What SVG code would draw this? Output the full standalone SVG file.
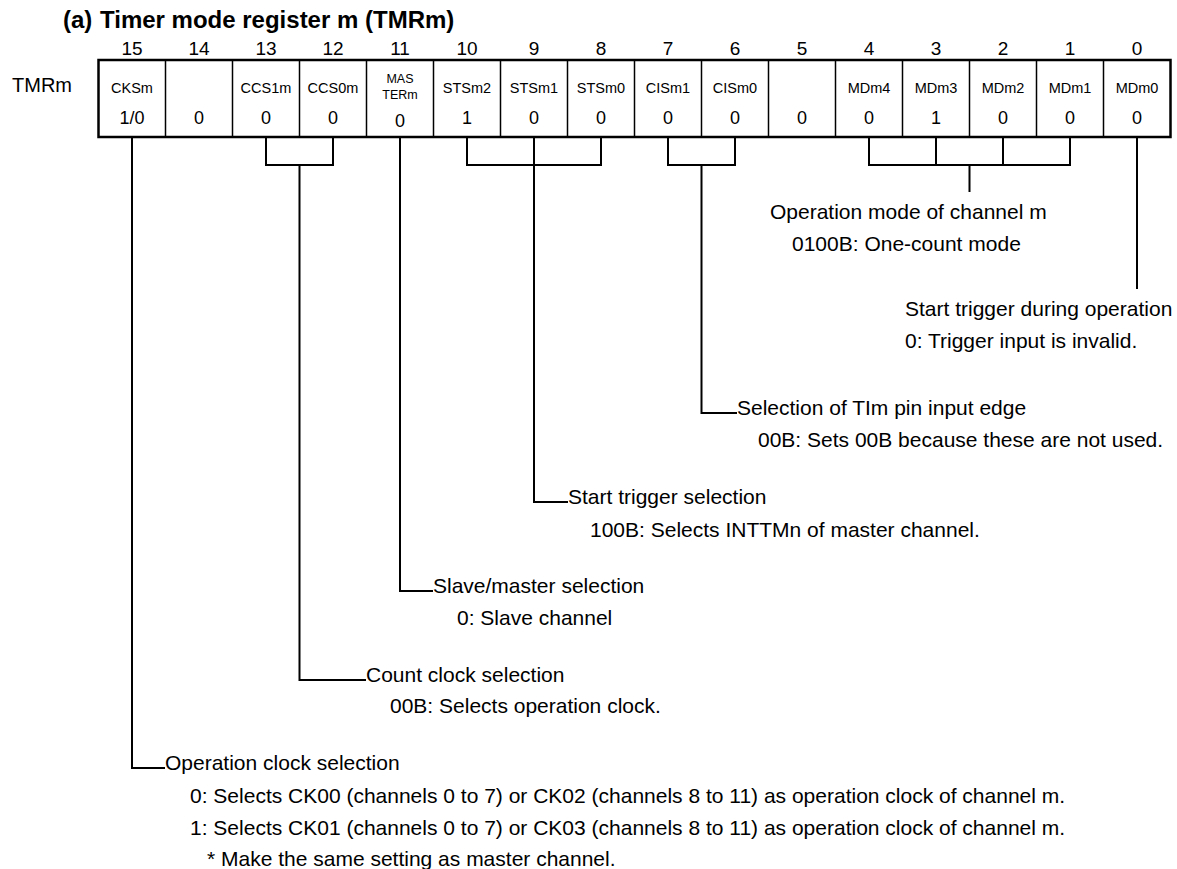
<svg xmlns="http://www.w3.org/2000/svg" width="1177" height="869" viewBox="0 0 1177 869">
<style>
text{font-family:"Liberation Sans",Arial,sans-serif;fill:#000}
.title{font-size:24px;font-weight:bold}
.bit{font-size:19px;text-anchor:middle}
.reg{font-size:20px}
.fld{font-size:14.5px;text-anchor:middle}
.fs{font-size:12.5px;text-anchor:middle}
.val{font-size:18px;text-anchor:middle}
.d{font-size:21px}
.outer{fill:#fff;stroke:#000;stroke-width:2.5}
.div{stroke:#000;stroke-width:1.5}
.c{fill:none;stroke:#000;stroke-width:2}
</style>
<rect width="1177" height="869" fill="#fff"/>
<g id="title">
<text class="title" x="63" y="28">(a)</text>
<text class="title" x="100" y="28">Timer mode register m (TMRm)</text>
</g>
<g id="bit-numbers">
<text class="bit" x="132" y="55">15</text>
<text class="bit" x="199" y="55">14</text>
<text class="bit" x="266" y="55">13</text>
<text class="bit" x="333" y="55">12</text>
<text class="bit" x="400" y="55">11</text>
<text class="bit" x="467" y="55">10</text>
<text class="bit" x="534" y="55">9</text>
<text class="bit" x="601" y="55">8</text>
<text class="bit" x="668" y="55">7</text>
<text class="bit" x="735" y="55">6</text>
<text class="bit" x="802" y="55">5</text>
<text class="bit" x="869" y="55">4</text>
<text class="bit" x="936" y="55">3</text>
<text class="bit" x="1003" y="55">2</text>
<text class="bit" x="1070" y="55">1</text>
<text class="bit" x="1137" y="55">0</text>
</g>
<g id="register">
<text class="reg" x="12" y="92">TMRm</text>
<rect class="outer" x="98.5" y="60" width="1072" height="77"/>
<path class="div" d="M165.5 60V137M232.5 60V137M299.5 60V137M366.5 60V137M433.5 60V137M500.5 60V137M567.5 60V137M634.5 60V137M701.5 60V137M768.5 60V137M835.5 60V137M902.5 60V137M969.5 60V137M1036.5 60V137M1103.5 60V137"/>
<g id="bit15"><text class="fld" x="132" y="93">CKSm</text><text class="val" x="132" y="124">1/0</text></g>
<g id="bit14"><text class="val" x="199" y="124">0</text></g>
<g id="bit13"><text class="fld" x="266" y="93">CCS1m</text><text class="val" x="266" y="124">0</text></g>
<g id="bit12"><text class="fld" x="333" y="93">CCS0m</text><text class="val" x="333" y="124">0</text></g>
<g id="bit11"><text class="fs" x="400" y="83">MAS</text><text class="fs" x="400" y="99">TERm</text><text class="val" x="400" y="127">0</text></g>
<g id="bit10"><text class="fld" x="467" y="93">STSm2</text><text class="val" x="467" y="124">1</text></g>
<g id="bit9"><text class="fld" x="534" y="93">STSm1</text><text class="val" x="534" y="124">0</text></g>
<g id="bit8"><text class="fld" x="601" y="93">STSm0</text><text class="val" x="601" y="124">0</text></g>
<g id="bit7"><text class="fld" x="668" y="93">CISm1</text><text class="val" x="668" y="124">0</text></g>
<g id="bit6"><text class="fld" x="735" y="93">CISm0</text><text class="val" x="735" y="124">0</text></g>
<g id="bit5"><text class="val" x="802" y="124">0</text></g>
<g id="bit4"><text class="fld" x="869" y="93">MDm4</text><text class="val" x="869" y="124">0</text></g>
<g id="bit3"><text class="fld" x="936" y="93">MDm3</text><text class="val" x="936" y="124">1</text></g>
<g id="bit2"><text class="fld" x="1003" y="93">MDm2</text><text class="val" x="1003" y="124">0</text></g>
<g id="bit1"><text class="fld" x="1070" y="93">MDm1</text><text class="val" x="1070" y="124">0</text></g>
<g id="bit0"><text class="fld" x="1137" y="93">MDm0</text><text class="val" x="1137" y="124">0</text></g>
</g>
<g id="connectors">
<path class="c" d="M132 138V768H165"/>
<path class="c" d="M266 138V165H333V138M299.5 165V680H366"/>
<path class="c" d="M400 138V591H433"/>
<path class="c" d="M467 138V165H601V138M534 138V502H568"/>
<path class="c" d="M668 138V165H735V138M701.5 165V413H737"/>
<path class="c" d="M869 138V165H1070V138M936 138V165M1003 138V165M969.5 165V192"/>
<path class="c" d="M1137 138V289"/>
</g>
<g id="desc-md">
<text class="d" x="770" y="219">Operation mode of channel m</text>
<text class="d" x="792" y="251">0100B: One-count mode</text>
</g>
<g id="desc-md0">
<text class="d" x="905" y="316">Start trigger during operation</text>
<text class="d" x="905" y="348">0: Trigger input is invalid.</text>
</g>
<g id="desc-cis">
<text class="d" x="737" y="415">Selection of TIm pin input edge</text>
<text class="d" x="758" y="447">00B: Sets 00B because these are not used.</text>
</g>
<g id="desc-sts">
<text class="d" x="568" y="504">Start trigger selection</text>
<text class="d" x="590" y="537">100B: Selects INTTMn of master channel.</text>
</g>
<g id="desc-master">
<text class="d" x="433" y="593">Slave/master selection</text>
<text class="d" x="457" y="625">0: Slave channel</text>
</g>
<g id="desc-ccs">
<text class="d" x="366" y="682">Count clock selection</text>
<text class="d" x="390" y="713">00B: Selects operation clock.</text>
</g>
<g id="desc-cks">
<text class="d" x="165" y="770">Operation clock selection</text>
<text class="d" x="190" y="803">0: Selects CK00 (channels 0 to 7) or CK02 (channels 8 to 11) as operation clock of channel m.</text>
<text class="d" x="190" y="835">1: Selects CK01 (channels 0 to 7) or CK03 (channels 8 to 11) as operation clock of channel m.</text>
<text class="d" x="207" y="866">* Make the same setting as master channel.</text>
</g>
</svg>
